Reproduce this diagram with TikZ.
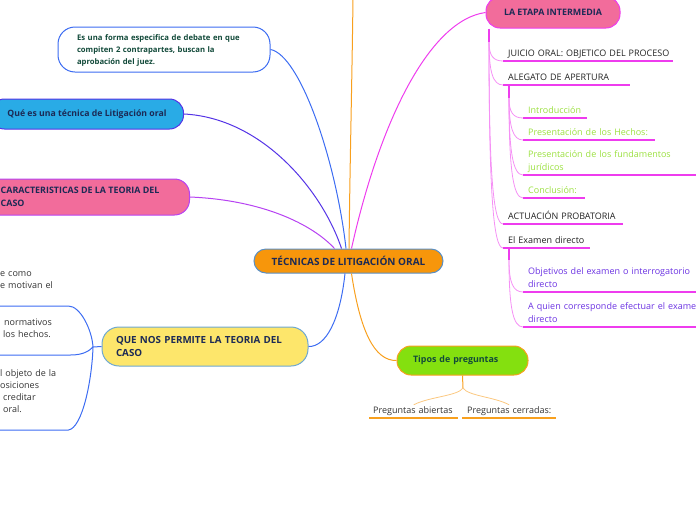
\documentclass[tikz,border=0pt]{standalone}
\usepackage{fontspec}
\setmainfont{Open Sans}
\usetikzlibrary{calc}
\lefthyphenmin=62
\definecolor{cOrangeF}{HTML}{F7960B}
\definecolor{cSteel}{HTML}{5A8FC4}
\definecolor{cNavy}{HTML}{1C2A55}
\definecolor{cBlue}{HTML}{3C6CF2}
\definecolor{cIndigo}{HTML}{5534E6}
\definecolor{cCyan}{HTML}{29ABE6}
\definecolor{cPurple}{HTML}{B743F2}
\definecolor{cPink}{HTML}{F26C9B}
\definecolor{cYellow}{HTML}{FDE66B}
\definecolor{cYBorder}{HTML}{6EA8D2}
\definecolor{cMag}{HTML}{EE3CEE}
\definecolor{cMagL}{HTML}{F590F5}
\definecolor{cLime}{HTML}{84E00F}
\definecolor{cOr}{HTML}{F8A01E}
\definecolor{cOrL}{HTML}{FBC880}
\definecolor{cGreenT}{HTML}{124A3A}
\definecolor{cGreenI}{HTML}{9BE040}
\definecolor{cViolet}{HTML}{6B32E2}
\definecolor{cDark}{HTML}{222222}
\definecolor{cGray}{HTML}{333333}
\newcommand\rbr[3]{\draw[#1] (#2) .. controls ($(#2)!0.7!(#2 |- #3)$) and ([xshift=-10pt]#3) .. (#3);}
\newcommand\nb[1]{\mbox{#1}}
\begin{document}
\begin{tikzpicture}[x=1pt,y=-1pt,
  box/.style={draw, line width=1pt},
  ritem/.style={anchor=south west, inner xsep=5pt, inner ysep=0.9pt, align=left,
    font=\fontsize{9}{13}\selectfont, execute at end node={\strut}},
  litem/.style={anchor=south west, inner xsep=0pt, inner ysep=13.8pt, align=left,
    font=\fontsize{9}{12}\selectfont, text=cGray, execute at end node={\strut}},
  uline/.style={draw=cMag, line width=1.3pt},
  ouline/.style={draw=cOr, line width=1.3pt},
  spine/.style={draw=cMag, line width=1.3pt},
  mbr/.style={draw=cMagL, line width=0.8pt},
  bl/.style={draw=cBlue, line width=1pt},
  conn/.style={line width=1pt}]
\useasboundingbox (0,0) rectangle (696,520);

% central
\node[box, fill=cOrangeF, draw=cSteel, minimum width=189pt, minimum height=24pt,
  rounded corners=12pt, font=\bfseries\fontsize{10}{13}\selectfont, text=cNavy] (center) at (348.5,261) {TÉCNICAS DE LITIGACIÓN ORAL};

% left side main nodes
\node[box, draw=cBlue, fill=white, rounded corners=17pt, minimum height=45pt,
  text width=174pt, inner xsep=19pt, align=left,
  font=\bfseries\fontsize{7.7}{12}\selectfont, text=cGreenT,
  execute at begin node={\strut}] (forma) at (164,49.5)
  {\nb{Es una forma especifica de debate en que}\\\nb{compiten 2 contrapartes, buscan la}\\\nb{aprobación del juez.}};
\node[box, draw=cIndigo, fill=cCyan, rounded corners=14pt, minimum height=30pt,
  inner xsep=17pt, anchor=east, font=\bfseries\fontsize{8.7}{13}\selectfont, text=cNavy] (que) at (184,114)
  {Qué es una técnica de Litigación oral};
\node[box, draw=cPurple, fill=cPink, rounded corners=15pt, minimum height=36pt,
  inner xsep=30pt, anchor=east, align=left, font=\bfseries\fontsize{8.9}{13}\selectfont, text=cNavy] (carac) at (190,197)
  {CARACTERISTICAS DE LA TEORIA DEL\\CASO};
\node[box, draw=cYBorder, fill=cYellow, rounded corners=17pt, minimum height=39pt,
  text width=178pt, inner xsep=14pt, align=left, font=\bfseries\fontsize{9.8}{13}\selectfont, text=cNavy] (permite) at (205,346.5)
  {\nb{QUE NOS PERMITE LA TEORIA DEL}\\CASO};

% right side main nodes
\node[box, draw=cMag, fill=cPink, rounded corners=14pt, minimum width=134pt,
  minimum height=31pt, font=\bfseries\fontsize{8.9}{13}\selectfont, text=cNavy] (etapa) at (553,12.5) {LA ETAPA INTERMEDIA};
\node[box, draw=cOr, fill=cLime, rounded corners=14pt, minimum height=29pt,
  text width=99pt, inner xsep=16pt, align=left, font=\bfseries\fontsize{8.9}{13}\selectfont, text=cGreenT] (tipos) at (462.5,360.5)
  {\nb{Tipos de preguntas}};

% connectors to center
\coordinate (offtop) at (353,-2);
\draw[conn, draw=cBlue] (forma.east) .. controls (300,55) and (336,160) .. ([xshift=-2.5pt]center.north);
\draw[conn, draw=cIndigo] (que.east) .. controls (262,118) and (322,190) .. ([xshift=-7pt]center.north);
\draw[conn, draw=cPurple] (carac.east) .. controls (262,200) and (312,224) .. ([xshift=-14pt]center.north);
\draw[conn, draw=cOr] ([xshift=0.5pt]center.north) .. controls (350,160) and (352,80) .. (offtop);
\draw[conn, draw=cMag] ([xshift=3pt]center.north) .. controls (380,120) and (430,20) .. (etapa.west);
\draw[conn, draw=cBlue] ([xshift=-3.5pt]center.south) .. controls (340,320) and (326,347) .. (permite.east);
\draw[conn, draw=cOr] ([xshift=3pt]center.south) .. controls (360,330) and (374,361) .. (tipos.west);

% left items of permite
\node[litem, text width=68pt] (l1) at (0,306) {\nb{e como}\\\nb{e motivan el}};
\node[litem, text width=70pt] (l2) at (0,355) {\hspace*{4pt}\nb{normativos}\\\hspace*{3pt}\nb{los hechos.}};
\node[litem, text width=68pt] (l3) at (0,430) {\nb{l objeto de la}\\osiciones\\\hspace*{3pt}creditar\\\hspace*{3pt}oral.};
\coordinate (qj) at (93,347);
\draw[bl] (l1.south west) -- (l1.south east) .. controls +(12,0) and +(-1,-17) .. (qj);
\draw[bl] (l2.south west) -- (l2.south east) .. controls +(13,0) and +(-4,4) .. (qj);
\draw[bl] (l3.south west) -- (l3.south east) .. controls +(14,-2) and +(-1,33) .. (qj);
\draw[bl] (qj) -- (permite.west);

% right items of etapa
\node[ritem, text width=160pt, text=cDark] (juicio) at (503,61) {\nb{JUICIO ORAL: OBJETICO DEL PROCESO}};
\node[ritem, text width=117pt, text=cDark] (alegato) at (503,85) {\nb{ALEGATO DE APERTURA}};
\node[ritem, text width=54pt, text=cGreenI] (intro) at (523,118) {\nb{Introducción}};
\node[ritem, text width=122pt, text=cGreenI] (hechos) at (523,140) {\nb{Presentación de los Hechos:}};
\node[ritem, text width=180pt, text=cGreenI] (fund) at (523,175) {\nb{Presentación de los fundamentos}\\jurídicos};
\node[ritem, text width=52pt, text=cGreenI] (concl) at (523,198) {\nb{Conclusión:}};
\node[ritem, text width=110pt, text=cDark] (actu) at (503,224) {\nb{ACTUACIÓN PROBATORIA}};
\node[ritem, text width=77pt, text=cDark] (examen) at (503,248) {\nb{El Examen directo}};
\node[ritem, text width=190pt, text=cViolet] (obj) at (523,292) {\nb{Objetivos del examen o interrogatorio}\\directo};
\node[ritem, text width=190pt, text=cViolet] (quien) at (523,327) {\nb{A quien corresponde efectuar el examen}\\directo};

\foreach \n in {juicio,alegato,intro,hechos,fund,concl,actu,examen,obj,quien}
  \draw[uline] (\n.south west) -- (\n.south east);

\coordinate (es) at (489,42);
\draw[spine] (489,28.5) -- (es);
\rbr{mbr}{es}{juicio.south west}
\rbr{mbr}{es}{alegato.south west}
\rbr{mbr}{es}{actu.south west}
\rbr{mbr}{es}{examen.south west}

\coordinate (as) at ([xshift=6pt,yshift=-13pt]alegato.south west);
\draw[spine] ([xshift=6pt]alegato.south west) -- (as);
\rbr{mbr}{as}{intro.south west}
\rbr{mbr}{as}{hechos.south west}
\rbr{mbr}{as}{fund.south west}
\rbr{mbr}{as}{concl.south west}

\coordinate (xs) at ([xshift=6pt,yshift=-12pt]examen.south west);
\draw[spine] ([xshift=6pt]examen.south west) -- (xs);
\rbr{mbr}{xs}{obj.south west}
\rbr{mbr}{xs}{quien.south west}

% tipos children
\node[ritem, inner xsep=4pt, text width=81pt, text=cGray] (abiertas) at (369,418) {\nb{Preguntas abiertas}};
\node[ritem, text width=84pt, text=cGray] (cerradas) at (462,418) {\nb{Preguntas cerradas:}};
\draw[ouline] (abiertas.south west) -- (abiertas.south east);
\draw[ouline] (cerradas.south west) -- (cerradas.south east);
\coordinate (tj) at (463,388);
\draw[draw=cOr, line width=1pt] (tipos.south) -- (tj);
\draw[draw=cOrL, line width=0.8pt] (tj) .. controls +(-5,8) and +(15,-8) .. ([yshift=-2pt]abiertas.north);
\draw[draw=cOrL, line width=0.8pt] (tj) .. controls +(5,8) and +(-15,-8) .. ([yshift=-2pt]cerradas.north);
\end{tikzpicture}
\end{document}
